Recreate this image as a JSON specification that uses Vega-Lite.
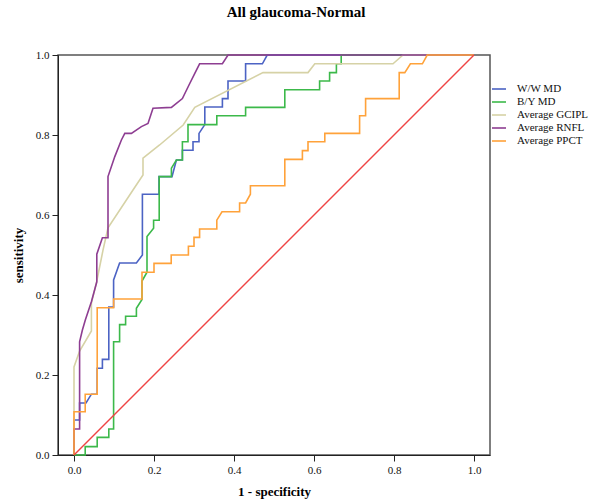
{
  "$schema": "https://vega.github.io/schema/vega-lite/v6.json",
  "width": 432,
  "height": 400,
  "autosize": {"type": "none"},
  "padding": {"left": 58, "top": 55, "right": 103, "bottom": 47},
  "background": "white",
  "config": {
    "font": "Liberation Serif",
    "view": {"stroke": "#555555", "strokeWidth": 1.5},
    "axis": {"grid": false, "domainColor": "#222222", "tickColor": "#222222", "labelColor": "#111111", "titleColor": "#000000", "labelFont": "Liberation Serif", "titleFont": "Liberation Serif", "labelFontSize": 11, "titleFontSize": 13, "titleFontWeight": "bold", "tickSize": 6, "labelPadding": 3}
  },
  "title": {"text": "All glaucoma-Normal", "font": "Liberation Serif", "fontSize": 15, "fontWeight": "bold", "color": "#000000", "anchor": "middle", "dx": 22, "offset": 29},
  "datasets": {
    "roc": [
      {"series": "W/W MD", "i": 0, "x": 0, "y": 0},
      {"series": "W/W MD", "i": 1, "x": 0, "y": 0.0875},
      {"series": "W/W MD", "i": 2, "x": 0.014, "y": 0.0875},
      {"series": "W/W MD", "i": 3, "x": 0.014, "y": 0.13},
      {"series": "W/W MD", "i": 4, "x": 0.03, "y": 0.13},
      {"series": "W/W MD", "i": 5, "x": 0.0435, "y": 0.152},
      {"series": "W/W MD", "i": 6, "x": 0.058, "y": 0.152},
      {"series": "W/W MD", "i": 7, "x": 0.058, "y": 0.217},
      {"series": "W/W MD", "i": 8, "x": 0.071, "y": 0.217},
      {"series": "W/W MD", "i": 9, "x": 0.071, "y": 0.239},
      {"series": "W/W MD", "i": 10, "x": 0.087, "y": 0.239},
      {"series": "W/W MD", "i": 11, "x": 0.087, "y": 0.37},
      {"series": "W/W MD", "i": 12, "x": 0.099, "y": 0.37},
      {"series": "W/W MD", "i": 13, "x": 0.099, "y": 0.4375},
      {"series": "W/W MD", "i": 14, "x": 0.114, "y": 0.48},
      {"series": "W/W MD", "i": 15, "x": 0.156, "y": 0.48},
      {"series": "W/W MD", "i": 16, "x": 0.171, "y": 0.5},
      {"series": "W/W MD", "i": 17, "x": 0.171, "y": 0.652},
      {"series": "W/W MD", "i": 18, "x": 0.2125, "y": 0.652},
      {"series": "W/W MD", "i": 19, "x": 0.2125, "y": 0.696},
      {"series": "W/W MD", "i": 20, "x": 0.245, "y": 0.696},
      {"series": "W/W MD", "i": 21, "x": 0.256, "y": 0.7375},
      {"series": "W/W MD", "i": 22, "x": 0.271, "y": 0.7375},
      {"series": "W/W MD", "i": 23, "x": 0.271, "y": 0.762},
      {"series": "W/W MD", "i": 24, "x": 0.2975, "y": 0.762},
      {"series": "W/W MD", "i": 25, "x": 0.2975, "y": 0.783},
      {"series": "W/W MD", "i": 26, "x": 0.3125, "y": 0.783},
      {"series": "W/W MD", "i": 27, "x": 0.3125, "y": 0.804},
      {"series": "W/W MD", "i": 28, "x": 0.327, "y": 0.826},
      {"series": "W/W MD", "i": 29, "x": 0.327, "y": 0.87},
      {"series": "W/W MD", "i": 30, "x": 0.371, "y": 0.87},
      {"series": "W/W MD", "i": 31, "x": 0.371, "y": 0.891},
      {"series": "W/W MD", "i": 32, "x": 0.385, "y": 0.891},
      {"series": "W/W MD", "i": 33, "x": 0.385, "y": 0.935},
      {"series": "W/W MD", "i": 34, "x": 0.429, "y": 0.935},
      {"series": "W/W MD", "i": 35, "x": 0.429, "y": 0.978},
      {"series": "W/W MD", "i": 36, "x": 0.471, "y": 0.978},
      {"series": "W/W MD", "i": 37, "x": 0.483, "y": 1.0},
      {"series": "W/W MD", "i": 38, "x": 1.0, "y": 1.0},

      {"series": "B/Y MD", "i": 0, "x": 0, "y": 0},
      {"series": "B/Y MD", "i": 1, "x": 0.028, "y": 0},
      {"series": "B/Y MD", "i": 2, "x": 0.028, "y": 0.021},
      {"series": "B/Y MD", "i": 3, "x": 0.058, "y": 0.021},
      {"series": "B/Y MD", "i": 4, "x": 0.058, "y": 0.044},
      {"series": "B/Y MD", "i": 5, "x": 0.087, "y": 0.044},
      {"series": "B/Y MD", "i": 6, "x": 0.087, "y": 0.065},
      {"series": "B/Y MD", "i": 7, "x": 0.099, "y": 0.065},
      {"series": "B/Y MD", "i": 8, "x": 0.099, "y": 0.283},
      {"series": "B/Y MD", "i": 9, "x": 0.114, "y": 0.283},
      {"series": "B/Y MD", "i": 10, "x": 0.114, "y": 0.326},
      {"series": "B/Y MD", "i": 11, "x": 0.129, "y": 0.326},
      {"series": "B/Y MD", "i": 12, "x": 0.129, "y": 0.347},
      {"series": "B/Y MD", "i": 13, "x": 0.156, "y": 0.347},
      {"series": "B/Y MD", "i": 14, "x": 0.156, "y": 0.367},
      {"series": "B/Y MD", "i": 15, "x": 0.17, "y": 0.389},
      {"series": "B/Y MD", "i": 16, "x": 0.17, "y": 0.435},
      {"series": "B/Y MD", "i": 17, "x": 0.1825, "y": 0.457},
      {"series": "B/Y MD", "i": 18, "x": 0.1825, "y": 0.546},
      {"series": "B/Y MD", "i": 19, "x": 0.199, "y": 0.567},
      {"series": "B/Y MD", "i": 20, "x": 0.199, "y": 0.587},
      {"series": "B/Y MD", "i": 21, "x": 0.213, "y": 0.587},
      {"series": "B/Y MD", "i": 22, "x": 0.213, "y": 0.696},
      {"series": "B/Y MD", "i": 23, "x": 0.2435, "y": 0.696},
      {"series": "B/Y MD", "i": 24, "x": 0.2435, "y": 0.717},
      {"series": "B/Y MD", "i": 25, "x": 0.256, "y": 0.7375},
      {"series": "B/Y MD", "i": 26, "x": 0.271, "y": 0.7375},
      {"series": "B/Y MD", "i": 27, "x": 0.271, "y": 0.783},
      {"series": "B/Y MD", "i": 28, "x": 0.285, "y": 0.783},
      {"series": "B/Y MD", "i": 29, "x": 0.285, "y": 0.826},
      {"series": "B/Y MD", "i": 30, "x": 0.357, "y": 0.826},
      {"series": "B/Y MD", "i": 31, "x": 0.357, "y": 0.848},
      {"series": "B/Y MD", "i": 32, "x": 0.429, "y": 0.848},
      {"series": "B/Y MD", "i": 33, "x": 0.429, "y": 0.869},
      {"series": "B/Y MD", "i": 34, "x": 0.527, "y": 0.869},
      {"series": "B/Y MD", "i": 35, "x": 0.527, "y": 0.913},
      {"series": "B/Y MD", "i": 36, "x": 0.614, "y": 0.913},
      {"series": "B/Y MD", "i": 37, "x": 0.614, "y": 0.935},
      {"series": "B/Y MD", "i": 38, "x": 0.639, "y": 0.935},
      {"series": "B/Y MD", "i": 39, "x": 0.639, "y": 0.956},
      {"series": "B/Y MD", "i": 40, "x": 0.656, "y": 0.956},
      {"series": "B/Y MD", "i": 41, "x": 0.656, "y": 0.978},
      {"series": "B/Y MD", "i": 42, "x": 0.668, "y": 0.978},
      {"series": "B/Y MD", "i": 43, "x": 0.668, "y": 1.0},
      {"series": "B/Y MD", "i": 44, "x": 1.0, "y": 1.0},

      {"series": "Average GCIPL", "i": 0, "x": 0, "y": 0},
      {"series": "Average GCIPL", "i": 1, "x": 0, "y": 0.22},
      {"series": "Average GCIPL", "i": 2, "x": 0.014, "y": 0.26},
      {"series": "Average GCIPL", "i": 3, "x": 0.0435, "y": 0.31},
      {"series": "Average GCIPL", "i": 4, "x": 0.0435, "y": 0.38},
      {"series": "Average GCIPL", "i": 5, "x": 0.056, "y": 0.43},
      {"series": "Average GCIPL", "i": 6, "x": 0.0725, "y": 0.512},
      {"series": "Average GCIPL", "i": 7, "x": 0.085, "y": 0.568},
      {"series": "Average GCIPL", "i": 8, "x": 0.1475, "y": 0.6625},
      {"series": "Average GCIPL", "i": 9, "x": 0.1725, "y": 0.7},
      {"series": "Average GCIPL", "i": 10, "x": 0.1725, "y": 0.742},
      {"series": "Average GCIPL", "i": 11, "x": 0.214, "y": 0.775},
      {"series": "Average GCIPL", "i": 12, "x": 0.273, "y": 0.825},
      {"series": "Average GCIPL", "i": 13, "x": 0.302, "y": 0.869},
      {"series": "Average GCIPL", "i": 14, "x": 0.4725, "y": 0.956},
      {"series": "Average GCIPL", "i": 15, "x": 0.585, "y": 0.956},
      {"series": "Average GCIPL", "i": 16, "x": 0.602, "y": 0.978},
      {"series": "Average GCIPL", "i": 17, "x": 0.7975, "y": 0.978},
      {"series": "Average GCIPL", "i": 18, "x": 0.8225, "y": 1.0},
      {"series": "Average GCIPL", "i": 19, "x": 1.0, "y": 1.0},

      {"series": "Average RNFL", "i": 0, "x": 0, "y": 0},
      {"series": "Average RNFL", "i": 1, "x": 0, "y": 0.065},
      {"series": "Average RNFL", "i": 2, "x": 0.014, "y": 0.065},
      {"series": "Average RNFL", "i": 3, "x": 0.014, "y": 0.283},
      {"series": "Average RNFL", "i": 4, "x": 0.021, "y": 0.3125},
      {"series": "Average RNFL", "i": 5, "x": 0.0285, "y": 0.338},
      {"series": "Average RNFL", "i": 6, "x": 0.0435, "y": 0.383},
      {"series": "Average RNFL", "i": 7, "x": 0.057, "y": 0.433},
      {"series": "Average RNFL", "i": 8, "x": 0.057, "y": 0.502},
      {"series": "Average RNFL", "i": 9, "x": 0.071, "y": 0.543},
      {"series": "Average RNFL", "i": 10, "x": 0.085, "y": 0.543},
      {"series": "Average RNFL", "i": 11, "x": 0.085, "y": 0.696},
      {"series": "Average RNFL", "i": 12, "x": 0.102, "y": 0.746},
      {"series": "Average RNFL", "i": 13, "x": 0.1185, "y": 0.7875},
      {"series": "Average RNFL", "i": 14, "x": 0.127, "y": 0.804},
      {"series": "Average RNFL", "i": 15, "x": 0.1435, "y": 0.804},
      {"series": "Average RNFL", "i": 16, "x": 0.1685, "y": 0.821},
      {"series": "Average RNFL", "i": 17, "x": 0.185, "y": 0.829},
      {"series": "Average RNFL", "i": 18, "x": 0.1975, "y": 0.867},
      {"series": "Average RNFL", "i": 19, "x": 0.2435, "y": 0.869},
      {"series": "Average RNFL", "i": 20, "x": 0.271, "y": 0.891},
      {"series": "Average RNFL", "i": 21, "x": 0.2875, "y": 0.925},
      {"series": "Average RNFL", "i": 22, "x": 0.302, "y": 0.954},
      {"series": "Average RNFL", "i": 23, "x": 0.314, "y": 0.978},
      {"series": "Average RNFL", "i": 24, "x": 0.371, "y": 0.978},
      {"series": "Average RNFL", "i": 25, "x": 0.385, "y": 1.0},
      {"series": "Average RNFL", "i": 26, "x": 1.0, "y": 1.0},

      {"series": "Average PPCT", "i": 0, "x": 0, "y": 0},
      {"series": "Average PPCT", "i": 1, "x": 0, "y": 0.108},
      {"series": "Average PPCT", "i": 2, "x": 0.028, "y": 0.108},
      {"series": "Average PPCT", "i": 3, "x": 0.028, "y": 0.152},
      {"series": "Average PPCT", "i": 4, "x": 0.058, "y": 0.152},
      {"series": "Average PPCT", "i": 5, "x": 0.058, "y": 0.368},
      {"series": "Average PPCT", "i": 6, "x": 0.099, "y": 0.368},
      {"series": "Average PPCT", "i": 7, "x": 0.099, "y": 0.39},
      {"series": "Average PPCT", "i": 8, "x": 0.17, "y": 0.39},
      {"series": "Average PPCT", "i": 9, "x": 0.17, "y": 0.457},
      {"series": "Average PPCT", "i": 10, "x": 0.2, "y": 0.457},
      {"series": "Average PPCT", "i": 11, "x": 0.2, "y": 0.479},
      {"series": "Average PPCT", "i": 12, "x": 0.243, "y": 0.479},
      {"series": "Average PPCT", "i": 13, "x": 0.243, "y": 0.5},
      {"series": "Average PPCT", "i": 14, "x": 0.286, "y": 0.5},
      {"series": "Average PPCT", "i": 15, "x": 0.286, "y": 0.522},
      {"series": "Average PPCT", "i": 16, "x": 0.3, "y": 0.522},
      {"series": "Average PPCT", "i": 17, "x": 0.3, "y": 0.544},
      {"series": "Average PPCT", "i": 18, "x": 0.314, "y": 0.544},
      {"series": "Average PPCT", "i": 19, "x": 0.314, "y": 0.565},
      {"series": "Average PPCT", "i": 20, "x": 0.357, "y": 0.565},
      {"series": "Average PPCT", "i": 21, "x": 0.357, "y": 0.587},
      {"series": "Average PPCT", "i": 22, "x": 0.37, "y": 0.608},
      {"series": "Average PPCT", "i": 23, "x": 0.414, "y": 0.608},
      {"series": "Average PPCT", "i": 24, "x": 0.414, "y": 0.63},
      {"series": "Average PPCT", "i": 25, "x": 0.429, "y": 0.63},
      {"series": "Average PPCT", "i": 26, "x": 0.441, "y": 0.652},
      {"series": "Average PPCT", "i": 27, "x": 0.441, "y": 0.673},
      {"series": "Average PPCT", "i": 28, "x": 0.527, "y": 0.673},
      {"series": "Average PPCT", "i": 29, "x": 0.527, "y": 0.739},
      {"series": "Average PPCT", "i": 30, "x": 0.571, "y": 0.739},
      {"series": "Average PPCT", "i": 31, "x": 0.571, "y": 0.761},
      {"series": "Average PPCT", "i": 32, "x": 0.585, "y": 0.761},
      {"series": "Average PPCT", "i": 33, "x": 0.585, "y": 0.783},
      {"series": "Average PPCT", "i": 34, "x": 0.627, "y": 0.783},
      {"series": "Average PPCT", "i": 35, "x": 0.627, "y": 0.804},
      {"series": "Average PPCT", "i": 36, "x": 0.714, "y": 0.804},
      {"series": "Average PPCT", "i": 37, "x": 0.714, "y": 0.848},
      {"series": "Average PPCT", "i": 38, "x": 0.729, "y": 0.848},
      {"series": "Average PPCT", "i": 39, "x": 0.729, "y": 0.891},
      {"series": "Average PPCT", "i": 40, "x": 0.813, "y": 0.891},
      {"series": "Average PPCT", "i": 41, "x": 0.813, "y": 0.956},
      {"series": "Average PPCT", "i": 42, "x": 0.827, "y": 0.956},
      {"series": "Average PPCT", "i": 43, "x": 0.841, "y": 0.978},
      {"series": "Average PPCT", "i": 44, "x": 0.871, "y": 0.978},
      {"series": "Average PPCT", "i": 45, "x": 0.883, "y": 1.0},
      {"series": "Average PPCT", "i": 46, "x": 1.0, "y": 1.0}
    ],
    "ref": [
      {"x": 0, "y": 0},
      {"x": 1, "y": 1}
    ]
  },
  "layer": [
    {
      "data": {"name": "roc"},
      "mark": {"type": "line", "strokeWidth": 1.6},
      "encoding": {
        "x": {"field": "x", "type": "quantitative", "scale": {"domain": [-0.04, 1.04], "nice": false, "zero": false},
              "axis": {"values": [0, 0.2, 0.4, 0.6, 0.8, 1.0], "format": ".1f", "title": "1 - specificity", "titlePadding": 10}},
        "y": {"field": "y", "type": "quantitative", "scale": {"domain": [0, 1], "nice": false, "zero": false},
              "axis": {"values": [0, 0.2, 0.4, 0.6, 0.8, 1.0], "format": ".1f", "title": "sensitivity", "titlePadding": 10}},
        "color": {"field": "series", "type": "nominal",
                  "scale": {"domain": ["W/W MD", "B/Y MD", "Average GCIPL", "Average RNFL", "Average PPCT"],
                            "range": ["#4c63c4", "#3cb94a", "#d6d2a6", "#8e3e92", "#ffa23a"]},
                  "legend": {"title": null, "orient": "none", "legendX": 433, "legendY": 26, "padding": 0,
                             "symbolType": "stroke", "symbolSize": 196, "symbolStrokeWidth": 1.6,
                             "labelFont": "Liberation Serif", "labelFontSize": 11, "labelColor": "#111111",
                             "labelOffset": 10, "rowPadding": 0}},
        "order": {"field": "i", "type": "quantitative"}
      }
    },
    {
      "data": {"name": "ref"},
      "mark": {"type": "line", "color": "#ef4444", "strokeWidth": 1.4},
      "encoding": {
        "x": {"field": "x", "type": "quantitative"},
        "y": {"field": "y", "type": "quantitative"}
      }
    }
  ]
}
